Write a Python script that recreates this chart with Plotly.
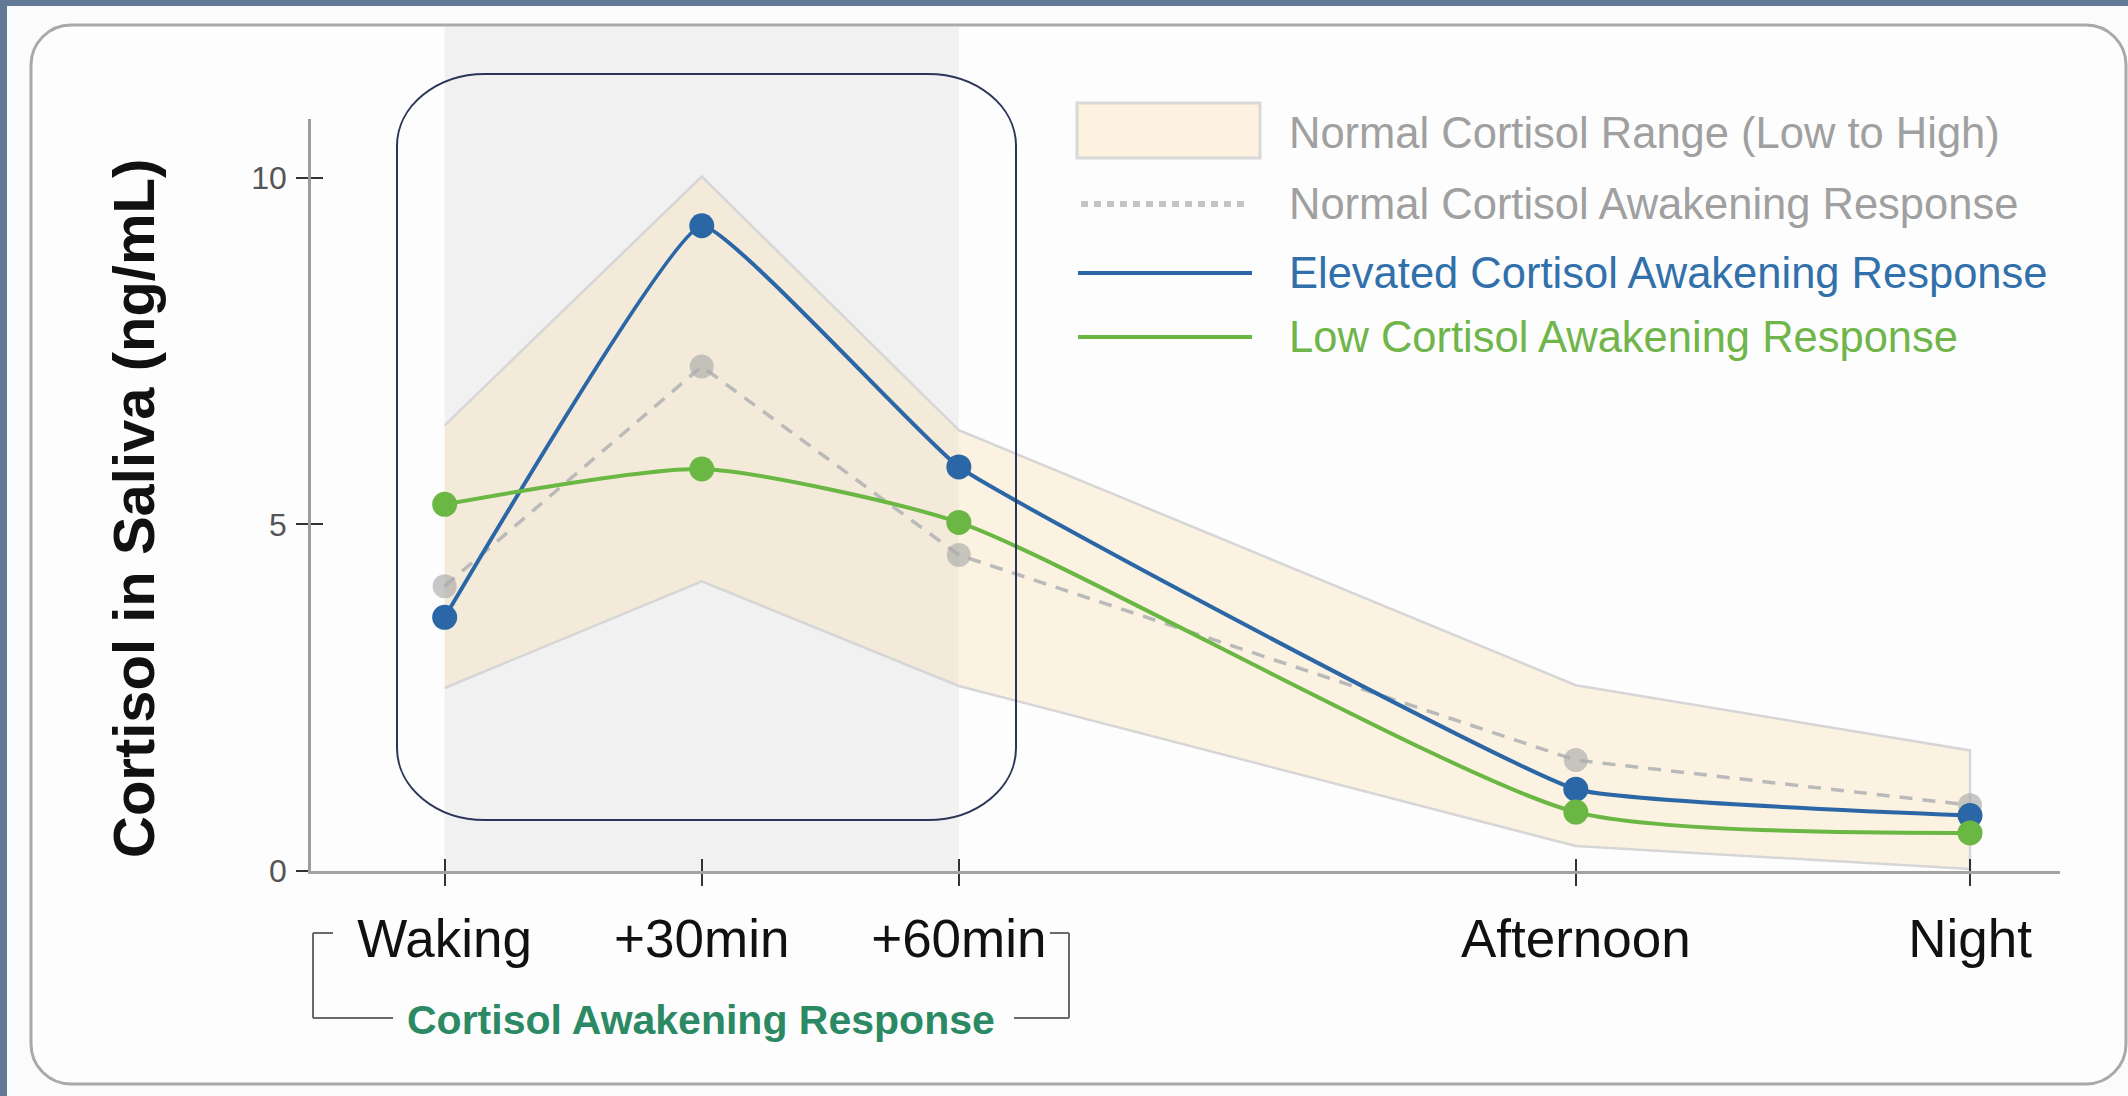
import plotly.graph_objects as go

# ---------------- data ----------------
time_labels = ["Waking", "+30min", "+60min", "Afternoon", "Night"]
x_pos = [0, 30, 60, 132, 178]          # horizontal placement of the sampling points
range_high = [6.43, 10.02, 6.36, 2.68, 1.74]
range_low = [2.64, 4.18, 2.67, 0.36, 0.03]
normal_car = [4.11, 7.28, 4.56, 1.60, 0.95]
elevated_car = [3.66, 9.31, 5.83, 1.18, 0.80]
low_car = [5.29, 5.80, 5.03, 0.85, 0.55]
y_ticks = [0, 5, 10]

legend_labels = [
    "Normal Cortisol Range (Low to High)",
    "Normal Cortisol Awakening Response",
    "Elevated Cortisol Awakening Response",
    "Low Cortisol Awakening Response",
]

# ---------------- style ----------------
W, H = 2128, 1096
L, R, T, B = 311, 2060, 119, 871
BLUE = "#2b67a6"
GREEN = "#6ab744"
GRAY_DASH = "#bababa"
BAND_FILL = "rgba(250,222,170,0.33)"
BAND_LINE = "#d6d6d6"
FONT = "Liberation Sans, Arial, sans-serif"


def px(x):
    return (x - L) / (R - L)


def py(y):
    return (B - y) / (B - T)


def rrect(x0, y0, x1, y1, rx, ry):
    k = 0.5523
    pts = []
    pts.append(f"M{px(x0 + rx)},{py(y0)}")
    pts.append(f"L{px(x1 - rx)},{py(y0)}")
    pts.append(f"C{px(x1 - rx + k * rx)},{py(y0)} {px(x1)},{py(y0 + ry - k * ry)} {px(x1)},{py(y0 + ry)}")
    pts.append(f"L{px(x1)},{py(y1 - ry)}")
    pts.append(f"C{px(x1)},{py(y1 - ry + k * ry)} {px(x1 - rx + k * rx)},{py(y1)} {px(x1 - rx)},{py(y1)}")
    pts.append(f"L{px(x0 + rx)},{py(y1)}")
    pts.append(f"C{px(x0 + rx - k * rx)},{py(y1)} {px(x0)},{py(y1 - ry + k * ry)} {px(x0)},{py(y1 - ry)}")
    pts.append(f"L{px(x0)},{py(y0 + ry)}")
    pts.append(f"C{px(x0)},{py(y0 + ry - k * ry)} {px(x0 + rx - k * rx)},{py(y0)} {px(x0 + rx)},{py(y0)}")
    pts.append("Z")
    return " ".join(pts)


fig = go.Figure()

# normal range band
fig.add_trace(go.Scatter(
    x=x_pos + x_pos[::-1],
    y=range_high + range_low[::-1],
    fill="toself", fillcolor=BAND_FILL,
    line=dict(color=BAND_LINE, width=2.5),
    mode="lines", hoverinfo="skip", showlegend=False,
))

# normal CAR
fig.add_trace(go.Scatter(
    x=x_pos, y=normal_car, mode="lines+markers",
    line=dict(color=GRAY_DASH, width=3.5, dash="13px,10px"),
    marker=dict(color="rgba(170,170,170,0.65)", size=24),
    showlegend=False, name=legend_labels[1],
))

# elevated CAR
fig.add_trace(go.Scatter(
    x=x_pos, y=elevated_car, mode="lines+markers",
    line=dict(color=BLUE, width=4, shape="spline", smoothing=0.3),
    marker=dict(color=BLUE, size=25),
    showlegend=False, name=legend_labels[2],
))

# low CAR
fig.add_trace(go.Scatter(
    x=x_pos, y=low_car, mode="lines+markers",
    line=dict(color=GREEN, width=4, shape="spline", smoothing=0.6),
    marker=dict(color=GREEN, size=25),
    showlegend=False, name=legend_labels[3],
))

# helper trace for the overlay axes (inner half of crossing ticks)
fig.add_trace(go.Scatter(
    x=x_pos, y=normal_car, xaxis="x2", yaxis="y2", mode="markers",
    marker=dict(opacity=0), hoverinfo="skip", showlegend=False,
))

xr = [-15.6, 188.5]
yr = [0, 10.85]

shapes = []
# outer slate strips
shapes.append(dict(type="rect", xref="paper", yref="paper", x0=px(0), x1=px(W), y0=py(0), y1=py(6),
                   fillcolor="#627a95", line=dict(width=0), layer="below"))
shapes.append(dict(type="rect", xref="paper", yref="paper", x0=px(0), x1=px(7), y0=py(0), y1=py(H),
                   fillcolor="#627a95", line=dict(width=0), layer="below"))
# card
shapes.append(dict(type="path", xref="paper", yref="paper", path=rrect(31, 25, 2126, 1084, 40, 40),
                   fillcolor="#fdfdfd", line=dict(color="#a9a9a9", width=3), layer="below"))
# CAR shaded period
shapes.append(dict(type="rect", xref="x", yref="paper", x0=x_pos[0], x1=x_pos[2], y0=0, y1=py(27),
                   fillcolor="#f1f1f1", line=dict(width=0), layer="below"))
# CAR rounded outline
shapes.append(dict(type="path", xref="paper", yref="paper", path=rrect(397, 74, 1016, 820, 88, 72),
                   line=dict(color="#2b3558", width=2), layer="above"))

# bracket under the CAR labels
bc = "#6a6a6a"
for (a, b, c, d) in [
    (313, 933, 313, 1018), (313, 933, 333, 933), (313, 1018, 393, 1018),
    (1069, 933, 1069, 1018), (1050, 933, 1069, 933), (1014, 1018, 1069, 1018),
]:
    shapes.append(dict(type="line", xref="paper", yref="paper", x0=px(a), y0=py(b), x1=px(c), y1=py(d),
                       line=dict(color=bc, width=2)))

# legend symbols
shapes.append(dict(type="rect", xref="paper", yref="paper", x0=px(1077), x1=px(1260), y0=py(103), y1=py(158),
                   fillcolor="#fdf1df", line=dict(color="#d9d9d9", width=3)))
shapes.append(dict(type="line", xref="paper", yref="paper", x0=px(1081), x1=px(1247), y0=py(204), y1=py(204),
                   line=dict(color="#c4c4c4", width=6, dash="7px,6px")))
shapes.append(dict(type="line", xref="paper", yref="paper", x0=px(1078), x1=px(1252), y0=py(273), y1=py(273),
                   line=dict(color=BLUE, width=4)))
shapes.append(dict(type="line", xref="paper", yref="paper", x0=px(1078), x1=px(1252), y0=py(337), y1=py(337),
                   line=dict(color=GREEN, width=4)))

annotations = []
leg_colors = ["#a0a0a0", "#a0a0a0", "#3170aa", "#6fb54a"]
leg_y = [133, 204, 273, 337]
for lab, col, yy in zip(legend_labels, leg_colors, leg_y):
    annotations.append(dict(xref="paper", yref="paper", x=px(1287), y=py(yy), text=lab, showarrow=False,
                            xanchor="left", yanchor="middle", font=dict(family=FONT, size=43.5, color=col)))

annotations.append(dict(xref="paper", yref="paper", x=px(701), y=py(1020), text="<b>Cortisol Awakening Response</b>",
                        showarrow=False, xanchor="center", yanchor="middle",
                        font=dict(family=FONT, size=41, color="#2b8a63")))
annotations.append(dict(xref="paper", yref="paper", x=px(134), y=py(509), text="<b>Cortisol in Saliva (ng/mL)</b>",
                        showarrow=False, textangle=-90, xanchor="center", yanchor="middle",
                        font=dict(family=FONT, size=58, color="#111111")))

fig.update_layout(
    width=W, height=H,
    margin=dict(l=L, r=W - R, t=T, b=H - B, pad=0),
    paper_bgcolor="#fbfbfb",
    plot_bgcolor="rgba(0,0,0,0)",
    showlegend=False,
    shapes=shapes,
    annotations=annotations,
    xaxis=dict(range=xr, tickmode="array", tickvals=x_pos, ticktext=time_labels,
               showgrid=False, zeroline=False, showline=True, linecolor="#a3a3a3", linewidth=3,
               ticks="outside", ticklen=12, tickwidth=2, tickcolor="#333333",
               ticklabelstandoff=7,
               tickfont=dict(family=FONT, size=53, color="#111111")),
    yaxis=dict(range=yr, tickmode="array", tickvals=y_ticks,
               showgrid=False, zeroline=False, showline=True, linecolor="#9c9c9c", linewidth=2.5,
               ticks="outside", ticklen=12, tickwidth=2, tickcolor="#333333",
               ticklabelstandoff=3,
               tickfont=dict(family="Liberation Sans Narrow, Liberation Sans, Arial", size=32, color="#555555")),
    xaxis2=dict(range=xr, overlaying="x", anchor="y", side="bottom", tickmode="array", tickvals=x_pos,
                showticklabels=False, showgrid=False, zeroline=False, showline=False,
                ticks="inside", ticklen=12, tickwidth=2, tickcolor="#333333"),
    yaxis2=dict(range=yr, overlaying="y", anchor="x", side="left", tickmode="array", tickvals=y_ticks[1:],
                showticklabels=False, showgrid=False, zeroline=False, showline=False,
                ticks="inside", ticklen=12, tickwidth=2, tickcolor="#333333"),
)

fig.write_html("out.html", config={"displayModeBar": False},
               post_script="document.body.style.margin='0';document.body.style.overflow='hidden';")
